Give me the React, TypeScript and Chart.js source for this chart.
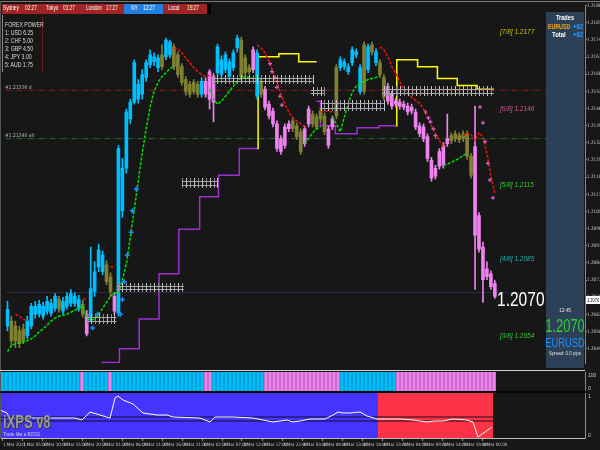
import React, { useEffect, useRef } from 'react';
import { Chart, registerables } from 'chart.js';
Chart.register(...registerables);

// ---------- DATA ----------
const candleOpen = [1.20580,1.20600,1.20580,1.20560,1.20568,1.20540,1.20580,1.20628,1.20628,1.20620,1.20640,1.20632,1.20652,1.20688,1.20640,1.20660,1.20672,1.20672,1.20652,1.20668,1.20628,1.20620,1.20720,1.20820,1.20800,1.20828,1.20780,1.20700,1.20632,1.21048,1.21220,1.21420,1.21488,1.21500,1.21520,1.21588,1.21640,1.21652,1.21628,1.21680,1.21672,1.21680,1.21712,1.21680,1.21632,1.21580,1.21560,1.21568,1.21560,1.21520,1.21572,1.21612,1.21592,1.21608,1.21600,1.21620,1.21592,1.21628,1.21708,1.21740,1.21668,1.21628,1.21620,1.21688,1.21572,1.21540,1.21480,1.21452,1.21400,1.21340,1.21388,1.21400,1.21412,1.21392,1.21368,1.21380,1.21460,1.21440,1.21428,1.21452,1.21432,1.21380,1.21420,1.21432,1.21628,1.21632,1.21612,1.21648,1.21680,1.21628,1.21532,1.21712,1.21692,1.21692,1.21648,1.21588,1.21552,1.21520,1.21492,1.21488,1.21480,1.21472,1.21468,1.21448,1.21392,1.21388,1.21348,1.21252,1.21220,1.21288,1.21312,1.21340,1.21352,1.21360,1.21352,1.21360,1.21360,1.21268,1.21308,1.21028,1.20900,1.20812,1.20792,1.20752];
const candleHigh = [1.20680,1.20620,1.20600,1.20580,1.20588,1.20620,1.20672,1.20680,1.20684,1.20676,1.20700,1.20688,1.20712,1.20700,1.20696,1.20716,1.20728,1.20716,1.20704,1.20684,1.20644,1.20900,1.20840,1.20912,1.20884,1.20844,1.20796,1.20716,1.21312,1.21260,1.21460,1.21500,1.21660,1.21580,1.21620,1.21660,1.21700,1.21688,1.21680,1.21720,1.21748,1.21740,1.21724,1.21692,1.21644,1.21592,1.21572,1.21580,1.21572,1.21588,1.21588,1.21620,1.21604,1.21724,1.21676,1.21692,1.21664,1.21700,1.21760,1.21752,1.21680,1.21640,1.21712,1.21700,1.21584,1.21552,1.21492,1.21464,1.21412,1.21352,1.21400,1.21412,1.21424,1.21404,1.21380,1.21392,1.21472,1.21452,1.21440,1.21464,1.21444,1.21392,1.21432,1.21640,1.21672,1.21664,1.21644,1.21712,1.21704,1.21640,1.21732,1.21724,1.21732,1.21704,1.21660,1.21600,1.21564,1.21532,1.21504,1.21500,1.21492,1.21484,1.21480,1.21460,1.21404,1.21400,1.21360,1.21264,1.21232,1.21300,1.21324,1.21440,1.21364,1.21372,1.21364,1.21372,1.21372,1.21280,1.21472,1.21040,1.20920,1.20840,1.20804,1.20764];
const candleLow = [1.20560,1.20500,1.20492,1.20492,1.20508,1.20528,1.20568,1.20612,1.20616,1.20608,1.20628,1.20620,1.20640,1.20636,1.20628,1.20648,1.20660,1.20660,1.20640,1.20616,1.20540,1.20600,1.20700,1.20800,1.20788,1.20748,1.20700,1.20628,1.20620,1.21020,1.21200,1.21400,1.21480,1.21484,1.21500,1.21572,1.21628,1.21636,1.21612,1.21620,1.21660,1.21668,1.21620,1.21588,1.21556,1.21516,1.21508,1.21520,1.21508,1.21508,1.21508,1.21460,1.21408,1.21596,1.21588,1.21608,1.21580,1.21616,1.21692,1.21580,1.21596,1.21600,1.21608,1.21500,1.21508,1.21456,1.21420,1.21388,1.21288,1.21276,1.21300,1.21368,1.21368,1.21336,1.21276,1.21308,1.21388,1.21388,1.21376,1.21408,1.21356,1.21300,1.21376,1.21420,1.21616,1.21620,1.21600,1.21636,1.21668,1.21520,1.21520,1.21608,1.21680,1.21636,1.21588,1.21496,1.21480,1.21460,1.21468,1.21460,1.21456,1.21436,1.21440,1.21376,1.21348,1.21328,1.21248,1.21168,1.21176,1.21216,1.21220,1.21308,1.21320,1.21328,1.21324,1.21328,1.21256,1.21180,1.20728,1.20880,1.20676,1.20768,1.20728,1.20692];
const candleClose = [1.20648,1.20520,1.20520,1.20508,1.20520,1.20600,1.20660,1.20660,1.20668,1.20660,1.20680,1.20672,1.20700,1.20648,1.20680,1.20700,1.20712,1.20700,1.20688,1.20628,1.20548,1.20732,1.20800,1.20888,1.20868,1.20760,1.20720,1.20640,1.21300,1.21220,1.21448,1.21488,1.21648,1.21560,1.21600,1.21648,1.21680,1.21672,1.21668,1.21632,1.21740,1.21732,1.21632,1.21600,1.21568,1.21532,1.21520,1.21532,1.21520,1.21572,1.21520,1.21500,1.21488,1.21712,1.21660,1.21680,1.21652,1.21688,1.21748,1.21592,1.21608,1.21612,1.21700,1.21512,1.21520,1.21468,1.21432,1.21400,1.21300,1.21288,1.21312,1.21380,1.21380,1.21348,1.21288,1.21320,1.21400,1.21400,1.21388,1.21420,1.21368,1.21312,1.21388,1.21628,1.21660,1.21652,1.21632,1.21700,1.21692,1.21532,1.21720,1.21620,1.21720,1.21648,1.21600,1.21508,1.21492,1.21472,1.21480,1.21472,1.21468,1.21448,1.21452,1.21388,1.21360,1.21340,1.21260,1.21180,1.21188,1.21228,1.21232,1.21320,1.21332,1.21340,1.21336,1.21340,1.21268,1.21192,1.20948,1.20892,1.20768,1.20780,1.20740,1.20700];
// b = blue (bull trend), o = olive (neutral), p = violet (bear trend)
const candleColorCode = "boooobbbbbbbbobbbbbopbbbboopbbbbbbbbbbbobbooooooobpppbbbbbbooopbopppppppoooppooooppobbbbbbobobooppppppppppppppppoooooopppppppp";
const histColorCode = "bbbbbbbbbbbbbbbbbbbbpbbbbbbpbbbbbbbbbbbbbbbbbbbbbbbppbbbbbbbbbbbbbpppppppppppppppppppbbbbbbbbbbbbbbppppppppppppppppppppppppppp";

const maGreen = [1.20476,1.20500,1.20508,1.20512,1.20516,1.20520,1.20528,1.20540,1.20556,1.20568,1.20584,1.20600,1.20612,1.20620,1.20624,1.20628,1.20636,1.20644,1.20652,1.20660,1.20612,1.20604,1.20608,1.20628,1.20652,1.20676,1.20700,1.20716,1.20712,1.20768,1.20832,1.20940,1.21052,1.21168,1.21280,1.21380,1.21468,1.21532,1.21568,1.21592,1.21608,1.21624,1.21632,null,null,null,null,null,null,null,null,1.21540,1.21500,1.21480,1.21492,1.21512,1.21532,1.21552,1.21572,1.21588,1.21592,1.21588,1.21584,1.21592,null,null,null,null,null,null,null,null,null,null,null,1.21320,1.21340,1.21364,1.21380,1.21388,null,null,1.21428,1.21400,1.21368,1.21428,1.21480,1.21528,1.21552,1.21564,1.21572,1.21580,1.21584,1.21588,1.21596,null,null,null,null,null,null,null,null,null,null,null,null,null,null,null,1.21232,1.21236,1.21244,1.21252,1.21260,1.21272,1.21280,null,null,null,null,null,null,null];
const maRed = [null,null,1.20628,1.20620,1.20608,1.20600,null,null,null,null,null,null,null,null,null,null,null,null,null,1.20692,1.20688,null,null,null,null,null,1.20820,1.20816,null,null,null,null,null,null,null,null,null,null,null,null,null,null,1.21708,1.21704,1.21688,1.21668,1.21648,1.21628,1.21612,1.21600,1.21592,1.21596,null,null,null,null,null,null,null,null,null,null,null,1.21720,1.21708,1.21688,1.21652,1.21612,1.21568,1.21520,1.21480,1.21448,1.21424,1.21412,1.21400,1.21388,null,null,null,1.21448,1.21452,1.21452,1.21448,null,null,null,null,null,null,null,null,null,null,null,1.21712,1.21700,1.21672,1.21632,1.21604,1.21572,1.21544,1.21524,1.21508,1.21496,1.21484,1.21460,1.21428,1.21392,1.21360,1.21332,1.21308,null,null,null,null,1.21352,1.21364,1.21356,1.21332,1.21364,1.21348,1.21280,1.21188,1.21120];

// trailing stop lines (bar index, price), null breaks the line
const supportIdx = [23.75,28.25,33.25,38.25,43.25,48.5,53.25,58.5,63,63.5,78,79,82.75,88.25,93.75,98];
const supportLvl = [1.20432,1.20488,1.20608,1.20792,1.20972,1.21104,1.21192,1.21300,1.21300,null,1.21492,1.21392,1.21360,1.21384,1.21392,1.21392];
const resistIdx = [63,63.25,68.5,73.5,78,80,98,98.25,103.5,108.5,113.5,118.5,122.75];
const resistLvl = [1.21300,1.21672,1.21684,1.21652,1.21652,null,1.21392,1.21660,1.21632,1.21584,1.21556,1.21540,1.21540];

// signal crosses
const buyCrossIdx = [21.5,22.75,28.5,29,29.5,30.25,31.25,31.5,32.5];
const buyCrossLvl = [1.20572,1.20628,1.20628,1.20688,1.20760,1.20868,1.20960,1.21048,1.21136];
const sellCrossIdx = [66.25,66.75,67.5,68,68.75,69.25,105.5,106.25,106.75,107.5,108,119.25,120,120.5,121.25,121.75,122.5];
const sellCrossLvl = [1.21644,1.21612,1.21588,1.21548,1.21512,1.21476,1.21448,1.21424,1.21408,1.21380,1.21352,1.21468,1.21404,1.21328,1.21240,1.21172,1.21100];

// railway zones
const railStart = [19.5,27.5,44,52,76.5,79,94.5];
const railEnd = [27.5,44.5,53.25,77,80,95,122.75];
const railTop = [1.20628,1.20756,1.21180,1.21600,1.21548,1.21496,1.21552];
const railBottom = [1.20588,1.20716,1.21140,1.21560,1.21512,1.21452,1.21512];

// Murrey levels
const murreyLabels = ["[7/8] 1.2177","[6/8] 1.2146","[5/8] 1.2115","[4/8] 1.2085","[3/8] 1.2054"];
const murreyLevels = [1.2177,1.2146,1.2115,1.2085,1.2054];
const murreyColors = ["#c8c800","#d2558f","#32cd32","#20b2aa","#32cd32"];

const redLevel = 1.21536;
const greenLevel = 1.21340;
const bidLevel = 1.20716;
const lastPrice = "1.2070";

const axisTickValues = [1.21880,1.21810,1.21741,1.21671,1.21602,1.21532,1.21462,1.21393,1.21323,1.21254,1.21184,1.21114,1.21045,1.20975,1.20906,1.20836,1.20766,1.20697,1.20627,1.20558,1.20488];

// oscillator
const oscIdx = [-0.5,1.25,2,9.5,18.25,20,22,24.5,27,28.25,29,30.25,32.75,35.25,38.75,41.25,42.75,49.5,52,53.25,57.75,62.75,67.75,71.25,72.75,74.5,77,80.75,82.75,84,85.25,87,89.5,91.25,93.75,99.5,102.75,106.25,108.25,110.25,112.75,116.25,117.75,119,120.75,122.5];
const oscVal = [0.622,0.556,0.444,0.444,0.444,0.4,0.578,0.511,0.444,0.889,0.933,0.844,0.756,0.556,0.511,0.511,0.467,0.444,0.356,0.467,0.467,0.444,0.356,0.4,0.356,0.378,0.422,0.422,0.511,0.578,0.556,0.556,0.578,0.489,0.422,0.422,0.4,0.356,0.378,0.378,0.422,0.4,0.356,0.022,0.133,0.244];
const oscLevels = [0.467,0.378];
const bullZone = [-0.5,94];
const bearZone = [94,122.75];

const timeTickIdx = [0,5,10,15,20,25,30,35,40,45,50,55,60,65,70,75,80,85,90,95,100,105,110,115,120];
const timeLabels = ["1 Mar 2021","1 Mar 05:00","1 Mar 10:00","1 Mar 15:00","1 Mar 20:00","2 Mar 01:00","2 Mar 06:00","2 Mar 11:00","2 Mar 16:00","2 Mar 21:00","3 Mar 02:00","3 Mar 07:00","3 Mar 12:00","3 Mar 17:00","3 Mar 22:00","4 Mar 03:00","4 Mar 08:00","4 Mar 13:00","4 Mar 18:00","4 Mar 23:00","5 Mar 04:00","5 Mar 09:00","5 Mar 14:00","5 Mar 19:00","6 Mar 00:00"];

const sessions = [["Sydney","02:27"],["Tokyo","01:27"],["London","17:27"],["NY","12:27"],["Local","19:27"]];
const forexPower = ["FOREX POWER","1: USD 6.25","2: CHF 5.00","3: GBP 4.50","4: JPY 3.00","5: AUD 1.75"];

// ---------- STYLE ----------
const BG = '#171717';
const BLUE = '#00BFFF';
const OLIVE = '#808033';
const PINK = '#EE82EE';
const FONT = '"Liberation Sans", Arial, sans-serif';
const NARROW = '"Liberation Sans Narrow", "DejaVu Sans Condensed", "Liberation Sans", sans-serif';
const X_MIN = -0.5;
const X_MAX = 145.75;
const codeColor = (c: string) => (c === 'b' ? BLUE : c === 'o' ? OLIVE : PINK);

const fixY = (s: any) => { s.width = 15; s.paddingTop = 0; s.paddingBottom = 0; };

const mainDecor = {
  id: 'mainDecor',
  afterDatasetsDraw(chart: any) {
    const { ctx, scales } = chart;
    const xs = scales.x, ys = scales.y;
    ctx.save();
    for (let b = 0; b < railStart.length; b++) {
      const x0 = xs.getPixelForValue(railStart[b]);
      const x1 = xs.getPixelForValue(railEnd[b]);
      const yT = Math.round(ys.getPixelForValue(railTop[b]));
      const yB = Math.round(ys.getPixelForValue(railBottom[b]));
      const h = yB - yT;
      ctx.lineWidth = 1;
      for (let k = Math.ceil(railStart[b]); k <= railEnd[b]; k++) {
        const px = Math.round(xs.getPixelForValue(k)) + 0.5;
        ctx.strokeStyle = k % 2 ? '#c8c8c8' : '#8c8c9a';
        ctx.beginPath(); ctx.moveTo(px, yT); ctx.lineTo(px, yB); ctx.stroke();
      }
      ctx.strokeStyle = '#a8a8a8';
      const r1 = Math.round(yT + h * 0.3) + 0.5, r2 = Math.round(yT + h * 0.7) + 0.5;
      ctx.beginPath();
      ctx.moveTo(x0, r1); ctx.lineTo(x1, r1);
      ctx.moveTo(x0, r2); ctx.lineTo(x1, r2);
      ctx.stroke();
    }
    ctx.textBaseline = 'middle';
    ctx.textAlign = 'left';
    ctx.font = 'italic 6.5px ' + FONT;
    murreyLabels.forEach((t, i) => {
      ctx.fillStyle = murreyColors[i];
      ctx.fillText(t, 500, ys.getPixelForValue(murreyLevels[i]));
    });
    ctx.font = '5px ' + NARROW;
    ctx.fillStyle = '#b8b8b8';
    ctx.fillText('#1.21536 d', 5, ys.getPixelForValue(redLevel) - 3);
    ctx.fillText('#1.21340 alt', 5, ys.getPixelForValue(greenLevel) - 3);
    ctx.restore();
  },
};

const T = (p: any) => (
  <div style={{
    position: 'absolute', left: p.x, top: p.y, width: p.w, fontSize: p.size, lineHeight: 1,
    color: p.color || '#fff', fontWeight: p.bold ? 'bold' : 'normal', whiteSpace: 'nowrap',
    textAlign: p.w ? 'center' : 'left', fontFamily: p.family || FONT,
    transform: p.sx ? `scaleX(${p.sx})` : undefined, transformOrigin: p.w ? 'center' : 'left',
    textShadow: p.shadow,
  }}>{p.children}</div>
);

export default function App() {
  const mainRef = useRef<HTMLCanvasElement>(null);
  const histRef = useRef<HTMLCanvasElement>(null);
  const oscRef = useRef<HTMLCanvasElement>(null);

  useEffect(() => {
    const idx = candleOpen.map((_, i) => i);
    const colors = idx.map(i => codeColor(candleColorCode[i]));
    const common: any = {
      animation: false, responsive: false, events: [],
      plugins: { legend: { display: false }, tooltip: { enabled: false } },
    };
    const xHidden: any = { type: 'linear', min: X_MIN, max: X_MAX, display: false, offset: false, grid: { offset: false } };

    const main = new Chart(mainRef.current as HTMLCanvasElement, {
      type: 'bar',
      data: {
        datasets: [
          { type: 'line', data: buyCrossIdx.map((x, i) => ({ x, y: buyCrossLvl[i] })), showLine: false, pointStyle: 'cross', pointRadius: 2.5, borderColor: '#1E90FF', borderWidth: 1.5 } as any,
          { type: 'line', data: sellCrossIdx.map((x, i) => ({ x, y: sellCrossLvl[i] })), showLine: false, pointStyle: 'cross', pointRadius: 2, borderColor: '#e060c0', borderWidth: 1.2 } as any,
          { type: 'line', data: idx.map(i => ({ x: i, y: maGreen[i] })), borderColor: '#00e000', borderWidth: 1.5, borderDash: [3, 1.5], pointRadius: 0, spanGaps: false } as any,
          { type: 'line', data: idx.map(i => ({ x: i, y: maRed[i] })), borderColor: '#ee1111', borderWidth: 1.5, borderDash: [3, 1.5], pointRadius: 0, spanGaps: false } as any,
          { type: 'bar', data: idx.map(i => ({ x: i, y: [Math.min(candleOpen[i], candleClose[i]), Math.max(candleOpen[i], candleClose[i])] })), backgroundColor: colors, barThickness: 3, grouped: false } as any,
          { type: 'bar', data: idx.map(i => ({ x: i, y: [candleLow[i], candleHigh[i]] })), backgroundColor: colors, barThickness: 1, grouped: false } as any,
          { type: 'line', data: supportIdx.map((x, i) => ({ x, y: supportLvl[i] })), stepped: 'before', borderColor: '#9b30d0', borderWidth: 1.5, pointRadius: 0, spanGaps: false } as any,
          { type: 'line', data: resistIdx.map((x, i) => ({ x, y: resistLvl[i] })), stepped: 'before', borderColor: '#ffff00', borderWidth: 1.5, pointRadius: 0, spanGaps: false } as any,
          { type: 'line', data: [{ x: X_MIN, y: redLevel }, { x: 136, y: redLevel }], borderColor: '#8a1c1c', borderWidth: 1, borderDash: [6, 2, 1, 2], pointRadius: 0 } as any,
          { type: 'line', data: [{ x: X_MIN, y: greenLevel }, { x: 136, y: greenLevel }], borderColor: '#2a6a2a', borderWidth: 1, borderDash: [6, 2, 1, 2], pointRadius: 0 } as any,
          { type: 'line', data: [{ x: X_MIN, y: bidLevel }, { x: 136, y: bidLevel }], borderColor: '#2c2c48', borderWidth: 1, pointRadius: 0 } as any,
        ],
      },
      options: {
        ...common,
        layout: { padding: { top: 5, bottom: 1, left: 0, right: 0 } },
        scales: {
          x: xHidden,
          y: {
            position: 'right', min: 1.20428, max: 1.2188,
            afterFit: fixY,
            afterBuildTicks: (s: any) => { s.ticks = axisTickValues.map(v => ({ value: v })); },
            ticks: { autoSkip: false, color: '#c8c8c8', padding: 0, font: { size: 4.6, family: NARROW }, callback: (v: any) => Number(v).toFixed(4) },
            grid: { drawOnChartArea: false, drawTicks: true, tickLength: 2, color: '#888' },
            border: { color: '#888' },
          },
        },
      } as any,
      plugins: [mainDecor],
    });

    const hist = new Chart(histRef.current as HTMLCanvasElement, {
      type: 'bar',
      data: {
        datasets: [
          { data: idx.map(i => ({ x: i, y: 1 })), backgroundColor: idx.map(i => codeColor(histColorCode[i])), barThickness: 3 } as any,
        ],
      },
      options: {
        ...common,
        layout: { padding: { top: 3, bottom: 0, left: 0, right: 0 } },
        scales: {
          x: xHidden,
          y: { position: 'right', min: 0, max: 1, afterFit: fixY, ticks: { display: false }, grid: { display: false }, border: { color: '#888' } },
        },
      } as any,
    });

    const osc = new Chart(oscRef.current as HTMLCanvasElement, {
      type: 'line',
      data: {
        datasets: [
          { data: oscIdx.map((x, i) => ({ x, y: oscVal[i] })), borderColor: '#ffffff', borderWidth: 1, pointRadius: 0 },
          { data: [{ x: X_MIN, y: oscLevels[0] }, { x: bearZone[1], y: oscLevels[0] }], borderColor: 'rgba(10,10,20,0.9)', borderWidth: 1, pointRadius: 0 },
          { data: [{ x: X_MIN, y: oscLevels[1] }, { x: bearZone[1], y: oscLevels[1] }], borderColor: 'rgba(10,10,20,0.9)', borderWidth: 1, pointRadius: 0 },
          { data: [{ x: bearZone[0], y: 1 }, { x: bearZone[1], y: 1 }], borderWidth: 0, pointRadius: 0, fill: 'origin', backgroundColor: '#ff3347' },
          { data: [{ x: bullZone[0], y: 1 }, { x: bullZone[1], y: 1 }], borderWidth: 0, pointRadius: 0, fill: 'origin', backgroundColor: '#4534ff' },
        ] as any,
      },
      options: {
        ...common,
        layout: { padding: 0 },
        scales: {
          x: {
            type: 'linear', min: X_MIN, max: X_MAX, offset: false,
            afterFit: (s: any) => { s.height = 12; s.paddingLeft = 0; s.paddingRight = 0; },
            afterBuildTicks: (s: any) => { s.ticks = timeTickIdx.map(v => ({ value: v })); },
            ticks: { autoSkip: false, maxRotation: 0, minRotation: 0, align: 'start', labelOffset: 1, padding: 1, color: '#c8c8c8', font: { size: 4.5, family: NARROW }, callback: (_v: any, i: number) => timeLabels[i] },
            grid: { drawOnChartArea: false, drawTicks: true, tickLength: 3, color: '#999' },
            border: { color: '#bbbbbb' },
          },
          y: { position: 'right', min: 0, max: 1, afterFit: fixY, ticks: { display: false }, grid: { display: false }, border: { color: '#888' } },
        },
      } as any,
    });

    return () => { main.destroy(); hist.destroy(); osc.destroy(); };
  }, []);

  const sessX = [[3, 25], [46, 63], [86, 106], [131, 143], [168, 187]];
  const fpTop = [20.5, 28.8, 37, 45.2, 53, 60.5];

  return (
    <div style={{ position: 'fixed', left: 0, top: 0, width: 600, height: 450, background: BG, overflow: 'hidden', fontFamily: FONT }}>
      <canvas ref={mainRef} width={600} height={369} style={{ position: 'absolute', left: 0, top: 0, width: 600, height: 369 }} />
      <canvas ref={histRef} width={600} height={22} style={{ position: 'absolute', left: 0, top: 369, width: 600, height: 22 }} />
      <canvas ref={oscRef} width={600} height={57} style={{ position: 'absolute', left: 0, top: 393, width: 600, height: 57 }} />

      {/* frame lines */}
      <div style={{ position: 'absolute', left: 0, top: 1, width: 600, height: 1, background: '#7a7a7a' }} />
      <div style={{ position: 'absolute', left: 0, top: 1, width: 1, height: 438, background: '#555' }} />
      <div style={{ position: 'absolute', left: 0, top: 370, width: 585, height: 1, background: '#d0d0d0' }} />
      <div style={{ position: 'absolute', left: 0, top: 391, width: 585, height: 2, background: '#050505' }} />

      {/* session bar */}
      <div style={{ position: 'absolute', left: 2, top: 4, width: 205, height: 10, background: '#a02424' }} />
      <div style={{ position: 'absolute', left: 124, top: 4, width: 39, height: 10, background: '#1f80e0' }} />
      <div style={{ position: 'absolute', left: 207, top: 4, width: 4, height: 10, background: '#000' }} />
      {sessions.map((s, i) => (
        <React.Fragment key={i}>
          <T x={sessX[i][0]} y={5.2} size={6.8} sx={0.7}>{s[0]}</T>
          <T x={sessX[i][1]} y={5.2} size={6.8} sx={0.7}>{s[1]}</T>
        </React.Fragment>
      ))}

      {/* forex power */}
      <div style={{ position: 'absolute', left: 2, top: 15, width: 1, height: 57, background: '#8a8a8a' }} />
      <div style={{ position: 'absolute', left: 42, top: 17, width: 1, height: 55, background: '#6b1a1a' }} />
      {forexPower.map((t, i) => <T key={i} x={5} y={fpTop[i]} size={7} sx={0.74} color="#dcdcdc">{t}</T>)}

      {/* last price */}
      <T x={497} y={288} size={21} sx={0.74} color="#ffffff">{lastPrice}</T>

      {/* right info panel */}
      <div style={{ position: 'absolute', left: 546, top: 12, width: 38, height: 356, background: '#2c4157' }} />
      <T x={535} w={60} y={14.2} size={7} bold sx={0.8}>Trades</T>
      <T x={548} y={22.5} size={7} bold sx={0.75} color="#ffa500">EURUSD</T>
      <T x={573} y={22.5} size={7} bold sx={0.85} color="#1ea0ff">+82</T>
      <T x={552} y={31} size={7} bold sx={0.85}>Total</T>
      <T x={573} y={31} size={7} bold sx={0.85} color="#1ea0ff">+82</T>
      <T x={535} w={60} y={308} size={5.5} sx={0.85} color="#e8e8e8">12:45</T>
      <T x={525} w={80} y={316.6} size={18} sx={0.72} color="#32cd32">{lastPrice}</T>
      <T x={525} w={80} y={336} size={13} sx={0.72} color="#1e90ff">EURUSD</T>
      <T x={525} w={80} y={351} size={5.5} sx={0.8} color="#e0e0e0">Spread: 0.0 pips</T>

      {/* current price tag on axis */}
      <div style={{ position: 'absolute', left: 586, top: 296, width: 14, height: 8, background: '#ffffff' }} />
      <T x={587} y={297.5} size={5} sx={0.8} color="#000">{lastPrice}</T>

      {/* sub-window scale labels */}
      <T x={588} y={373} size={5} color="#c8c8c8">100</T>
      <T x={588} y={386} size={5} color="#c8c8c8">0</T>
      <T x={588} y={394} size={5} color="#c8c8c8">1</T>
      <T x={588} y={433} size={5} color="#c8c8c8">0</T>

      {/* oscillator branding */}
      <T x={3} y={413} size={18} bold sx={0.72} color="#9a9a9a" shadow="1px 1px 0 #333, -1px 0 0 #333">iXPS v8</T>
      <T x={3} y={430.5} size={6} sx={0.75} color="#d0d0d0">Trade like a BOSS</T>
    </div>
  );
}
